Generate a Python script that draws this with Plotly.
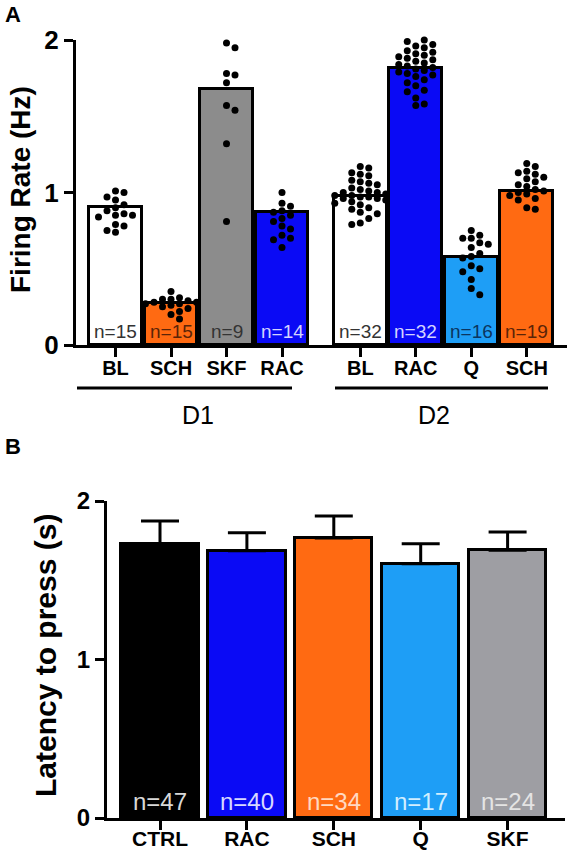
import plotly.graph_objects as go

# ---------------- DATA ----------------
# Panel A: firing rate (Hz)
a_labels = ["BL", "SCH", "SKF", "RAC", "BL", "RAC", "Q", "SCH"]
a_means = [0.905, 0.275, 1.68, 0.87, 0.977, 1.816, 0.577, 1.01]
a_n = [15, 15, 9, 14, 32, 32, 16, 19]
a_colors = ["#FFFFFF", "#FF6A12", "#8C8C8C", "#0A0AF5", "#FFFFFF", "#0A0AF5", "#1E9EF6", "#FF6A12"]
a_ncolors = ["#333333", "#5a2408", "#333333", "#d4d4ff", "#333333", "#d4d4ff", "#0b3560", "#5a2408"]
groups = ["D1", "D2"]

d1_bl = [1.01, 1.00, 0.97, 0.95, 0.92, 0.90, 0.88, 0.86, 0.85, 0.85, 0.84, 0.79, 0.78, 0.75, 0.74]
d1_sch = [0.35, 0.31, 0.30, 0.30, 0.29, 0.28, 0.28, 0.27, 0.27, 0.26, 0.25, 0.24, 0.22, 0.20, 0.17]
d1_skf = [1.98, 1.95, 1.78, 1.77, 1.72, 1.57, 1.54, 1.32, 0.81]
d1_rac = [1.00, 0.93, 0.91, 0.88, 0.87, 0.85, 0.83, 0.81, 0.78, 0.76, 0.72, 0.70, 0.69, 0.64]
d2_bl = [1.17, 1.16, 1.13, 1.12, 1.11, 1.08, 1.07, 1.06, 1.05, 1.03, 1.02, 1.01, 1.00, 1.00,
         0.99, 0.98, 0.98, 0.97, 0.97, 0.96, 0.96, 0.95, 0.94, 0.93, 0.92, 0.90, 0.89, 0.87,
         0.86, 0.83, 0.80, 0.79]
d2_rac = [2.01, 2.00, 1.99, 1.97, 1.96, 1.95, 1.93, 1.92, 1.91, 1.90, 1.89, 1.88, 1.87, 1.86,
          1.85, 1.84, 1.83, 1.82, 1.81, 1.80, 1.79, 1.78, 1.77, 1.76, 1.74, 1.72, 1.70, 1.67,
          1.66, 1.62, 1.58, 1.57]
d2_q = [0.75, 0.72, 0.70, 0.70, 0.67, 0.66, 0.64, 0.60, 0.58, 0.57, 0.52, 0.50, 0.48, 0.43, 0.37, 0.33]
d2_sch = [1.19, 1.17, 1.14, 1.13, 1.12, 1.10, 1.09, 1.07, 1.05, 1.04, 1.02, 1.01, 1.00, 0.99,
          0.98, 0.96, 0.95, 0.90, 0.89]
a_dots = [d1_bl, d1_sch, d1_skf, d1_rac, d2_bl, d2_rac, d2_q, d2_sch]

# Panel B: latency to press (s)
b_labels = ["CTRL", "RAC", "SCH", "Q", "SKF"]
b_means = [1.73, 1.686, 1.767, 1.604, 1.69]
b_sem = [0.144, 0.114, 0.139, 0.126, 0.115]
b_n = [47, 40, 34, 17, 24]
b_colors = ["#000000", "#0A0AF5", "#FF6A12", "#1E9EF6", "#9E9EA3"]
b_ncolors = ["#d8d8d8", "#d8d8ff", "#ffd9c2", "#d2eeff", "#e4e4e4"]

# ---------------- LAYOUT CONSTANTS ----------------
W, H = 570, 853
FONT = "Arial, Liberation Sans, sans-serif"
GAP = 0.41  # extra spacing between D1 and D2 groups (category units)
a_pos = [i + (GAP if i >= 4 else 0) for i in range(len(a_labels))]
b_pos = list(range(len(b_labels)))

# pixel geometry
A_X0, A_X1 = 76, 567
A_Y0, A_Y2 = 345, 40
B_X0, B_X1 = 107, 565
B_Y0, B_Y2 = 818, 501
A_STEP = 55.5
A_C0 = 115.5
B_STEP = 86.9
B_C0 = 160

a_xrange = [(A_X0 - A_C0) / A_STEP, (A_X1 - A_C0) / A_STEP]
b_xrange = [(B_X0 - B_C0) / B_STEP, (B_X1 - B_C0) / B_STEP]
px_per_y_a = (A_Y0 - A_Y2) / 2.0


def px(x):
    return x / W


def py(y):
    return 1 - y / H


def swarm(vals, px_x, px_y, step=8.5, diam=7.0, maxk=3):
    """Simple beeswarm: place each point at the nearest free horizontal slot."""
    placed = []
    offs = []
    cands = [0]
    for j in range(1, maxk + 1):
        cands += [j, -j]
    for v in sorted(vals, reverse=True):
        yp = v * px_y
        best, bestd = None, -1
        for c in cands:
            xp = c * step
            d = min([((xp - qx) ** 2 + (yp - qy) ** 2) ** 0.5 for qx, qy in placed] or [1e9])
            if d >= diam:
                best = xp
                break
            if d > bestd:
                bestd, best = d, xp
        placed.append((best, yp))
        offs.append((best / px_x, v))
    return offs


fig = go.Figure()

# Panel A bars
fig.add_trace(go.Bar(
    x=a_pos, y=a_means, width=0.95,
    marker=dict(color=a_colors, line=dict(color="black", width=3)),
    xaxis="x", yaxis="y", showlegend=False, hoverinfo="skip"))

# Panel A dots
for p, vals in zip(a_pos, a_dots):
    pts = swarm(vals, A_STEP, px_per_y_a)
    fig.add_trace(go.Scatter(
        x=[p + o for o, _ in pts], y=[v for _, v in pts], mode="markers",
        marker=dict(color="black", size=7), cliponaxis=False,
        xaxis="x", yaxis="y", showlegend=False, hoverinfo="skip"))

# Panel B bars
fig.add_trace(go.Bar(
    x=b_pos, y=b_means, width=0.89,
    marker=dict(color=b_colors, line=dict(color="black", width=3)),
    error_y=dict(type="data", symmetric=False, array=b_sem, arrayminus=[0] * len(b_sem),
                 color="black", thickness=3, width=19),
    xaxis="x2", yaxis="y2", showlegend=False, hoverinfo="skip"))

annotations = []
for p, n, c in zip(a_pos, a_n, a_ncolors):
    annotations.append(dict(x=p, y=0, xref="x", yref="y", text=f"n={n}", showarrow=False,
                            xanchor="center", yanchor="bottom", yshift=1,
                            font=dict(family=FONT, size=19, color=c)))
for p, n, c in zip(b_pos, b_n, b_ncolors):
    annotations.append(dict(x=p, y=0, xref="x2", yref="y2", text=f"n={n}", showarrow=False,
                            xanchor="center", yanchor="bottom", yshift=1,
                            font=dict(family=FONT, size=24, color=c)))


def paper_text(x, y, text, size, angle=0, xanchor="center"):
    return dict(x=px(x), y=py(y), xref="paper", yref="paper", text=text, textangle=angle,
                xanchor=xanchor, yanchor="middle", showarrow=False,
                font=dict(family=FONT, size=size, color="black"))


annotations += [
    paper_text(198, 415, groups[0], 25),
    paper_text(434, 415, groups[1], 25),
    paper_text(3, 15, "<b>A</b>", 22, xanchor="left"),
    paper_text(3, 446, "<b>B</b>", 22, xanchor="left"),
    paper_text(21, 190, "<b>Firing Rate (Hz)</b>", 28, angle=-90),
    paper_text(45, 656, "<b>Latency to press (s)</b>", 30, angle=-90),
]

shapes = [
    dict(type="line", xref="paper", yref="paper", x0=px(77), x1=px(292), y0=py(388), y1=py(388),
         line=dict(color="black", width=3)),
    dict(type="line", xref="paper", yref="paper", x0=px(335), x1=px(548), y0=py(388), y1=py(388),
         line=dict(color="black", width=3)),
]

axis_common = dict(showline=True, linecolor="black", linewidth=3, ticks="outside",
                   ticklen=9, tickwidth=3, tickcolor="black", showgrid=False, zeroline=False,
                   automargin=False, fixedrange=True)

fig.update_layout(
    width=W, height=H, margin=dict(l=0, r=0, t=0, b=0),
    paper_bgcolor="white", plot_bgcolor="white",
    font=dict(family=FONT, color="black"),
    bargap=0,
    xaxis=dict(domain=[px(A_X0), px(A_X1)], range=a_xrange, tickvals=a_pos, ticktext=a_labels,
               tickfont=dict(family=FONT, size=20, weight="bold"), ticklabelstandoff=-6,
               anchor="y", **axis_common),
    yaxis=dict(domain=[py(A_Y0), py(A_Y2)], range=[0, 2], tickvals=[0, 1, 2],
               tickfont=dict(family=FONT, size=26, weight="bold"), anchor="x", **axis_common),
    xaxis2=dict(domain=[px(B_X0), px(B_X1)], range=b_xrange, tickvals=b_pos, ticktext=b_labels,
                tickfont=dict(family=FONT, size=21, weight="bold"), ticklabelstandoff=-9,
                anchor="y2", **axis_common),
    yaxis2=dict(domain=[py(B_Y0), py(B_Y2)], range=[0, 2], tickvals=[0, 1, 2],
                tickfont=dict(family=FONT, size=24, weight="bold"), anchor="x2", **axis_common),
    annotations=annotations, shapes=shapes,
)

fig.write_html("out.html", config={"displayModeBar": False},
               post_script="document.body.style.margin='0px';document.body.style.overflow='hidden';")
